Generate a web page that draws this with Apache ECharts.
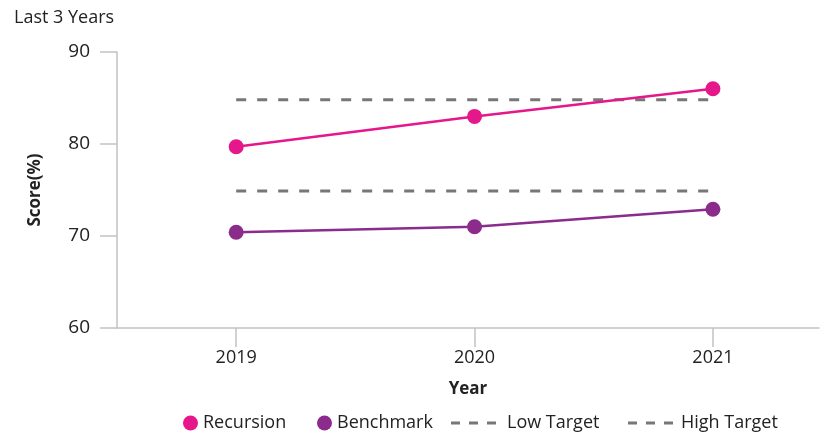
<!DOCTYPE html>
<html>
<head>
<meta charset="utf-8">
<script src="https://cdn.jsdelivr.net/npm/echarts@6/dist/echarts.min.js"></script>
<style>html,body{margin:0;padding:0;background:#fff}#c{width:833px;height:436px}</style>
</head>
<body>
<div id="c"></div>
<script>
const years = [2019, 2020, 2021];
const recursion = [79.7, 83.0, 86.0];
const benchmark = [70.4, 71.0, 72.9];
const lowTarget = [74.9, 74.9, 74.9];
const highTarget = [84.8, 84.8, 84.8];
const yTicks = [60, 70, 80, 90];

const FONT = 'Open Sans';
const TXT = '#222';
const pair = arr => years.map((y, i) => [y, arr[i]]);
const dashIcon = 'path://M0 0H9V3H0Z M18 0H27V3H18Z M36 0H45V3H36Z';
const legText = pad => ({fontFamily: FONT, fontSize: 18, color: TXT, padding: [0, 0, 0, pad]});

const chart = echarts.init(document.getElementById('c'), null, {renderer: 'canvas'});
chart.setOption({
  animation: false,
  title: {text: 'Last 3 Years', left: 14, top: 9, padding: 0,
    textStyle: {fontFamily: FONT, fontSize: 18, fontWeight: 'normal', color: TXT}},
  grid: {left: 117, right: 14, top: 52, bottom: 108, containLabel: false},
  legend: [
    {data: ['Recursion'], left: 183, top: 414, padding: 0, itemWidth: 15, itemHeight: 15, icon: 'circle',
     textStyle: legText(0)},
    {data: ['Benchmark'], left: 317, top: 414, padding: 0, itemWidth: 15, itemHeight: 15, icon: 'circle',
     textStyle: legText(0)},
    {data: [{name: 'Low Target', icon: dashIcon}], left: 451, top: 414, padding: 0, itemWidth: 45, itemHeight: 15,
     symbolKeepAspect: true, textStyle: legText(6)},
    {data: [{name: 'High Target', icon: dashIcon}], left: 628, top: 414, padding: 0, itemWidth: 45, itemHeight: 15,
     symbolKeepAspect: true, textStyle: legText(3)}
  ],
  xAxis: {
    type: 'value', min: 2018.5, max: 2021.445,
    name: 'Year', nameLocation: 'middle', nameGap: 53,
    nameTextStyle: {fontFamily: FONT, fontSize: 17, fontWeight: 'bold', color: TXT},
    axisLine: {show: true, lineStyle: {color: '#c2c2c2', width: 1.5}},
    axisTick: {show: true, length: 19, lineStyle: {color: '#c2c2c2', width: 1.5}, customValues: years},
    axisLabel: {customValues: years, margin: 21, fontFamily: FONT, fontSize: 18, color: TXT,
      formatter: v => String(v)},
    splitLine: {show: false}
  },
  yAxis: {
    type: 'value', min: 60, max: 90, interval: 10,
    name: 'Score(%)', nameLocation: 'middle', nameGap: 73, nameRotate: 90,
    nameTextStyle: {fontFamily: FONT, fontSize: 17, fontWeight: 'bold', color: TXT},
    axisLine: {show: true, lineStyle: {color: '#c2c2c2', width: 1.5}},
    axisTick: {show: true, length: 17, lineStyle: {color: '#c2c2c2', width: 1.5}},
    axisLabel: {customValues: yTicks, margin: 27, fontFamily: FONT, fontSize: 19, color: TXT},
    splitLine: {show: false}
  },
  series: [
    {name: 'Low Target', type: 'line', data: pair(lowTarget), symbol: 'none',
     lineStyle: {color: '#777', width: 3, type: [10, 11]}, itemStyle: {color: '#777'}, z: 1},
    {name: 'High Target', type: 'line', data: pair(highTarget), symbol: 'none',
     lineStyle: {color: '#777', width: 3, type: [10, 11]}, itemStyle: {color: '#777'}, z: 1},
    {name: 'Recursion', type: 'line', data: pair(recursion), symbol: 'circle', symbolSize: 15,
     lineStyle: {color: '#E5178A', width: 2.5}, itemStyle: {color: '#E5178A'}, z: 3},
    {name: 'Benchmark', type: 'line', data: pair(benchmark), symbol: 'circle', symbolSize: 15,
     lineStyle: {color: '#8B2B8C', width: 2.5}, itemStyle: {color: '#8B2B8C'}, z: 3}
  ]
});
</script>
</body>
</html>
